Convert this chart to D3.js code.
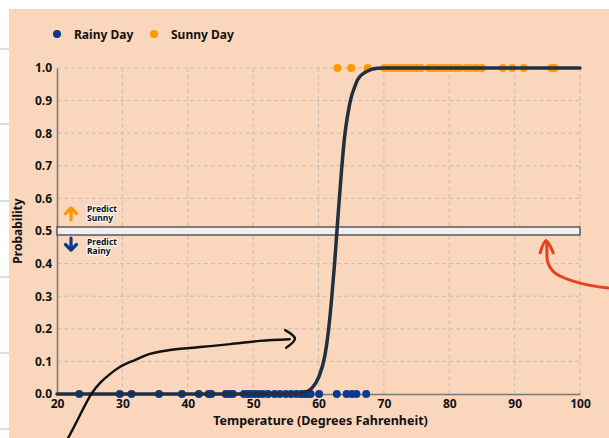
<!DOCTYPE html>
<html lang="en">
<head>
  <meta charset="UTF-8">
  <title>Rainy vs Sunny - Logistic Regression</title>
  <style>
    body {
      margin: 0;
      background-color: #fff;
      font-family: "Noto Sans", Arial, sans-serif;
    }
    svg text {
      font-weight: bold;
      fill: #111;
    }
  </style>
</head>
<body>
  <svg id="chart" width="609" height="438"></svg>

  <script src="https://d3js.org/d3.v7.min.js"></script>
  <script>
    // observed days (temperature, deg F)
    const rainyTemps = [23.4, 29.6, 31.4, 35.6, 39.1, 41.7, 43.2, 43.6, 45.8, 46.3, 46.9,
      48.6, 49.2, 49.7, 50.3, 50.9, 51.5, 52.3, 53.3, 54.1, 55.0, 55.8, 56.6, 57.3, 57.8,
      58.3, 58.8, 60.1, 62.8, 64.3, 65.1, 65.8, 67.3];
    const sunnyTemps = [62.9, 65.0, 67.5, 70.1, 70.9, 71.6, 72.3, 73.0, 73.7, 74.4, 75.1,
      75.7, 76.9, 77.5, 78.1, 78.8, 79.5, 80.2, 80.9, 81.6, 82.6, 83.3, 84.2, 85.0, 88.2,
      89.6, 91.4, 95.6, 96.1];

    // fitted curve
    const curveTemps = [20, 50, 55, 57, 58, 59, 60, 61, 61.5, 62, 62.5, 63, 63.5, 64, 64.5, 65, 65.5, 66, 67, 68, 69, 70, 100];
    const curveProbs = [0, 0, 0.0005, 0.002, 0.006, 0.018, 0.05, 0.12, 0.19, 0.29, 0.41, 0.55, 0.68, 0.79, 0.86, 0.91, 0.94, 0.965, 0.985, 0.995, 0.999, 1, 1];

    const xTicks = [20, 30, 40, 50, 60, 70, 80, 90, 100];
    const yTicks = [0, 0.1, 0.2, 0.3, 0.4, 0.5, 0.6, 0.7, 0.8, 0.9, 1.0];
    const threshold = 0.5;

    // hand-drawn ink, in data units
    const blackInkT = [21.7, 22.75, 24.3, 25.35, 26.6, 28.1, 29.6, 31.9, 34.2, 37.3, 41.9, 46.5, 51.05, 55.6];
    const blackInkP = [-0.135, -0.095, -0.034, 0.003, 0.034, 0.061, 0.083, 0.104, 0.123, 0.135, 0.144, 0.153, 0.163, 0.168];
    const blackHeadT = [54.9, 56.4, 55.05];
    const blackHeadP = [0.196, 0.17, 0.142];
    const redInkT = [104.3, 100.0, 96.2, 95.1, 94.9, 94.8];
    const redInkP = [0.325, 0.34, 0.371, 0.402, 0.463, 0.47];
    const redHeadT = [93.9, 94.8, 95.9];
    const redHeadP = [0.433, 0.47, 0.433];

    const svg = d3.select("#chart");

    // bits of the page behind the panel
    [49, 124, 201, 277, 353, 429].forEach(y => {
      svg.append("line").attr("x1", 0).attr("x2", 9).attr("y1", y).attr("y2", y)
        .attr("stroke", "#bbb").attr("stroke-width", 1);
    });

    svg.append("rect")
      .attr("x", 9).attr("y", 9)
      .attr("width", 600).attr("height", 429)
      .attr("fill", "#fad6bc");

    const x = d3.scaleLinear().domain([20, 100]).range([57, 580]);
    const y = d3.scaleLinear().domain([0, 1]).range([394, 68]);

    // grid
    svg.append("g").selectAll("line")
      .data(xTicks.slice(1))
      .join("line")
      .attr("x1", d => x(d)).attr("x2", d => x(d))
      .attr("y1", y(0)).attr("y2", y(1))
      .attr("stroke", "#c9bdb3").attr("stroke-dasharray", "4,3");

    svg.append("g").selectAll("line")
      .data(yTicks.slice(1))
      .join("line")
      .attr("x1", x(20)).attr("x2", x(100))
      .attr("y1", d => y(d)).attr("y2", d => y(d))
      .attr("stroke", "#c9bdb3").attr("stroke-dasharray", "4,3");

    // axes
    const xAxis = svg.append("g")
      .attr("transform", `translate(0,${y(0)})`)
      .call(d3.axisBottom(x).tickValues(xTicks).tickSize(0).tickPadding(5));
    xAxis.select(".domain").attr("stroke", "#7a7a7a").attr("stroke-width", 1.5);
    xAxis.selectAll("text").attr("font-size", 12).attr("font-family", "Noto Sans").attr("fill", "#111");

    const yAxis = svg.append("g")
      .attr("transform", `translate(${x(20)},0)`)
      .call(d3.axisLeft(y).tickValues(yTicks).tickFormat(d3.format(".1f")).tickSize(0).tickPadding(5));
    yAxis.select(".domain").attr("stroke", "#7a7a7a").attr("stroke-width", 1.5);
    yAxis.selectAll("text").attr("font-size", 12).attr("font-family", "Noto Sans").attr("fill", "#111");

    svg.append("text")
      .attr("x", (x(20) + x(100)) / 2 + 2).attr("y", 425)
      .attr("text-anchor", "middle").attr("font-size", 12.5)
      .text("Temperature (Degrees Fahrenheit)");

    svg.append("text")
      .attr("transform", `translate(22,${y(0.5)}) rotate(-90)`)
      .attr("text-anchor", "middle").attr("font-size", 12)
      .text("Probability");

    // threshold band
    svg.append("rect")
      .attr("x", x(20)).attr("y", y(threshold) - 4)
      .attr("width", x(100) - x(20)).attr("height", 8)
      .attr("fill", "#f0f0f0").attr("stroke", "#5a5a5a").attr("stroke-width", 1.5);

    // points
    svg.append("g").selectAll("circle")
      .data(rainyTemps)
      .join("circle")
      .attr("cx", d => x(d)).attr("cy", y(0)).attr("r", 4)
      .attr("fill", "#0b3a8c");

    svg.append("g").selectAll("circle")
      .data(sunnyTemps)
      .join("circle")
      .attr("cx", d => x(d)).attr("cy", y(1)).attr("r", 4)
      .attr("fill", "#ff9900");

    // curve
    const line = d3.line()
      .x(i => x(curveTemps[i]))
      .y(i => y(curveProbs[i]))
      .curve(d3.curveMonotoneX);
    svg.append("path")
      .attr("d", line(d3.range(curveTemps.length)))
      .attr("fill", "none").attr("stroke", "#232f3e").attr("stroke-width", 3.5)
      .attr("stroke-linecap", "round");

    // predict arrows
    function arrow(cx, yTip, dir, color) {
      const len = 12 * dir;
      svg.append("path")
        .attr("d", `M${cx},${yTip + len} L${cx},${yTip} M${cx - 5.5},${yTip + 5.5 * dir} L${cx},${yTip} L${cx + 5.5},${yTip + 5.5 * dir}`)
        .attr("fill", "none").attr("stroke", color).attr("stroke-width", 3.2)
        .attr("stroke-linecap", "round").attr("stroke-linejoin", "round");
    }
    arrow(71, y(threshold) - 23, 1, "#ff9900");
    arrow(71, y(threshold) + 19, -1, "#0b3a8c");

    function label(lines, yy) {
      lines.forEach((s, i) => {
        svg.append("text")
          .attr("x", 87).attr("y", yy + i * 9).attr("font-size", 8.5)
          .attr("stroke", "#f4f4f4").attr("stroke-width", 2.5)
          .attr("paint-order", "stroke").attr("stroke-linejoin", "round")
          .text(s);
      });
    }
    label(["Predict", "Sunny"], y(threshold) - 19);
    label(["Predict", "Rainy"], y(threshold) + 14);

    // legend
    const legend = [["Rainy Day", "#0b3a8c", 57], ["Sunny Day", "#ff9900", 154]];
    legend.forEach(([name, color, lx]) => {
      svg.append("circle").attr("cx", lx).attr("cy", 34).attr("r", 4).attr("fill", color);
      svg.append("text").attr("x", lx + 17).attr("y", 38.5).attr("font-size", 12).text(name);
    });

    // hand-drawn marks
    const ink = d3.line().x(d => x(d[0])).y(d => y(d[1])).curve(d3.curveCatmullRom);
    function inkPath(ts, ps, color, w) {
      svg.append("path")
        .attr("d", ink(ts.map((t, i) => [t, ps[i]])))
        .attr("fill", "none").attr("stroke", color).attr("stroke-width", w)
        .attr("stroke-linecap", "round").attr("stroke-linejoin", "round");
    }
    inkPath(blackInkT, blackInkP, "#111", 2.4);
    inkPath(blackHeadT, blackHeadP, "#111", 2.4);
    inkPath(redInkT, redInkP, "#e8411e", 3);
    inkPath(redHeadT, redHeadP, "#e8411e", 3);
  </script>
</body>
</html>
